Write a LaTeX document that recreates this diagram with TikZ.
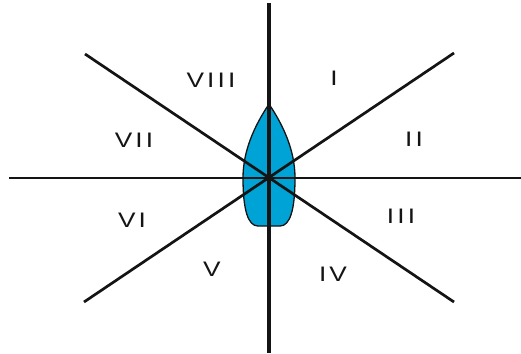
\documentclass[tikz,border=0pt]{standalone}
\usepackage{fontspec}
\setmainfont{Liberation Sans}[LetterSpace=12]
\definecolor{sailblue}{RGB}{0,163,214}
\definecolor{ink}{RGB}{20,20,20}
\begin{document}
\begin{tikzpicture}[x=1pt,y=-1pt,
  axis/.style={draw=ink,line width=2.7pt},
  vaxis/.style={draw=ink,line width=3.6pt},
  lab/.style={font=\fontsize{21}{21}\selectfont,text=ink,inner sep=0pt,xscale=1.25}]
\useasboundingbox (0,0) rectangle (521,353);
% sail shape
\path[fill=sailblue,draw=ink,line width=1.3pt]
  (269,104) .. controls (255,125) and (243,150) .. (243,178)
  .. controls (243,210) and (248,226) .. (258,226)
  -- (280,226) .. controls (290,226) and (295,210) .. (295,178)
  .. controls (295,150) and (283,125) .. (269,104) -- cycle;
% end points
\coordinate (top) at (269,3);
\coordinate (bot) at (269,353);
\coordinate (lft) at (9,178);
\coordinate (rgt) at (521,178);
\coordinate (ul) at (85,54);
\coordinate (lr) at (454,302);
\coordinate (ur) at (454,53);
\coordinate (ll) at (84,302);
\draw[axis] (lft) -- (rgt);
\draw[axis] (ul) -- (lr);
\draw[axis] (ur) -- (ll);
\draw[vaxis] (top) -- (bot);
% labels
\node[lab] (s1) at (334,78) {I};
\node[lab] (s2) at (414,139) {II};
\node[lab] (s3) at (401,216) {III};
\node[lab] (s4) at (333,274) {IV};
\node[lab] (s5) at (212,269) {V};
\node[lab] (s6) at (132,220) {VI};
\node[lab] (s7) at (134,140) {VII};
\node[lab] (s8) at (211,80) {VIII};
\end{tikzpicture}
\end{document}
